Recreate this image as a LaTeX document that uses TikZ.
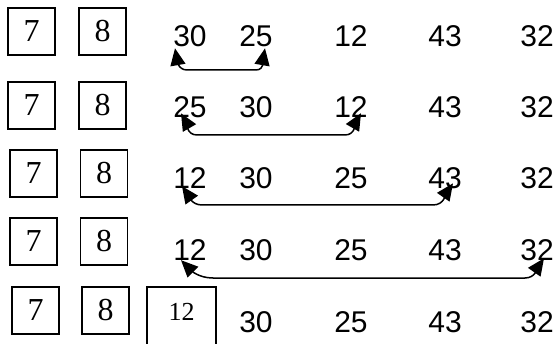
\documentclass[tikz,border=0pt]{standalone}
\usepackage{fontspec}
\setmainfont{Liberation Serif}
\setsansfont{Liberation Sans}
\usetikzlibrary{arrows.meta}

\begin{document}
\begin{tikzpicture}[x=1pt, y=1pt,
    numbox/.style={draw, line width=1.5pt, minimum width=47pt, minimum height=47pt, inner sep=0pt, font=\fontsize{32}{33}\selectfont\rmfamily},
    num/.style={inner sep=0pt, font=\fontsize{30}{31}\selectfont\sffamily},
    swaparrow/.style={{Triangle[length=17pt,width=15pt]}-{Triangle[length=17pt,width=15pt]}, line width=1.5pt}]
    \clip (0,0) rectangle (557,343);

    % Row 1
    \node[numbox] (b17) at (31.5,311.5) {7};
    \node[numbox] (b18) at (102.5,311.5) {8};
    \node[num] (n11) at (190,307) {30};
    \node[num] (n12) at (256,307) {25};
    \node[num] (n13) at (351,307) {12};
    \node[num] (n14) at (445,307) {43};
    \node[num] (n15) at (537,307) {32};
    \draw[swaparrow] ([shift={(-15,-1.5)}]n11.south) to[out=-80,in=180] (187,273)
        -- (256,273) to[out=0,in=-100] ([shift={(9,-1.5)}]n12.south);

    % Row 2
    \node[numbox] (b27) at (31.5,237.5) {7};
    \node[numbox] (b28) at (102.5,237.5) {8};
    \node[num] (n21) at (190,236) {25};
    \node[num] (n22) at (256,236) {30};
    \node[num] (n23) at (351,236) {12};
    \node[num] (n24) at (445,236) {43};
    \node[num] (n25) at (537,236) {32};
    \draw[swaparrow] ([shift={(-9,4.5)}]n21.south) to[out=-60,in=180] (197,208)
        -- (345,208) to[out=0,in=-120] ([shift={(10,4.5)}]n23.south);

    % Row 3
    \node[numbox] (b37) at (33.5,169.5) {7};
    \node[numbox] (b38) at (104,169.5) {8};
    \node[num] (n31) at (190,165) {12};
    \node[num] (n32) at (256,165) {30};
    \node[num] (n33) at (351,165) {25};
    \node[num] (n34) at (445,165) {43};
    \node[num] (n35) at (537,165) {32};
    \draw[swaparrow] ([shift={(-8,2.5)}]n31.south) to[out=-55,in=180] (202,138)
        -- (433,138) to[out=0,in=-125] ([shift={(8,5.5)}]n34.south);

    % Row 4
    \node[numbox] (b47) at (33.5,101.5) {7};
    \node[numbox] (b48) at (104,101.5) {8};
    \node[num] (n41) at (190,93) {12};
    \node[num] (n42) at (256,93) {30};
    \node[num] (n43) at (351,93) {25};
    \node[num] (n44) at (445,93) {43};
    \node[num] (n45) at (537,93) {32};
    \draw[swaparrow] ([shift={(-9,0.5)}]n41.south) to[out=-45,in=180] (213,65)
        -- (525,65) to[out=0,in=-125] ([shift={(7,2.5)}]n45.south);

    % Row 5 (12 moved into place)
    \node[numbox] (b57) at (35.5,32.5) {7};
    \node[numbox] (b58) at (105.5,32.5) {8};
    \node[numbox, minimum width=69pt, minimum height=62pt, text depth=12pt, font=\fontsize{26}{27}\selectfont\rmfamily] (b512) at (181.5,25) {12};
    \node[num] (n52) at (256,21) {30};
    \node[num] (n53) at (351,21) {25};
    \node[num] (n54) at (445,21) {43};
    \node[num] (n55) at (537,21) {32};
\end{tikzpicture}
\end{document}
